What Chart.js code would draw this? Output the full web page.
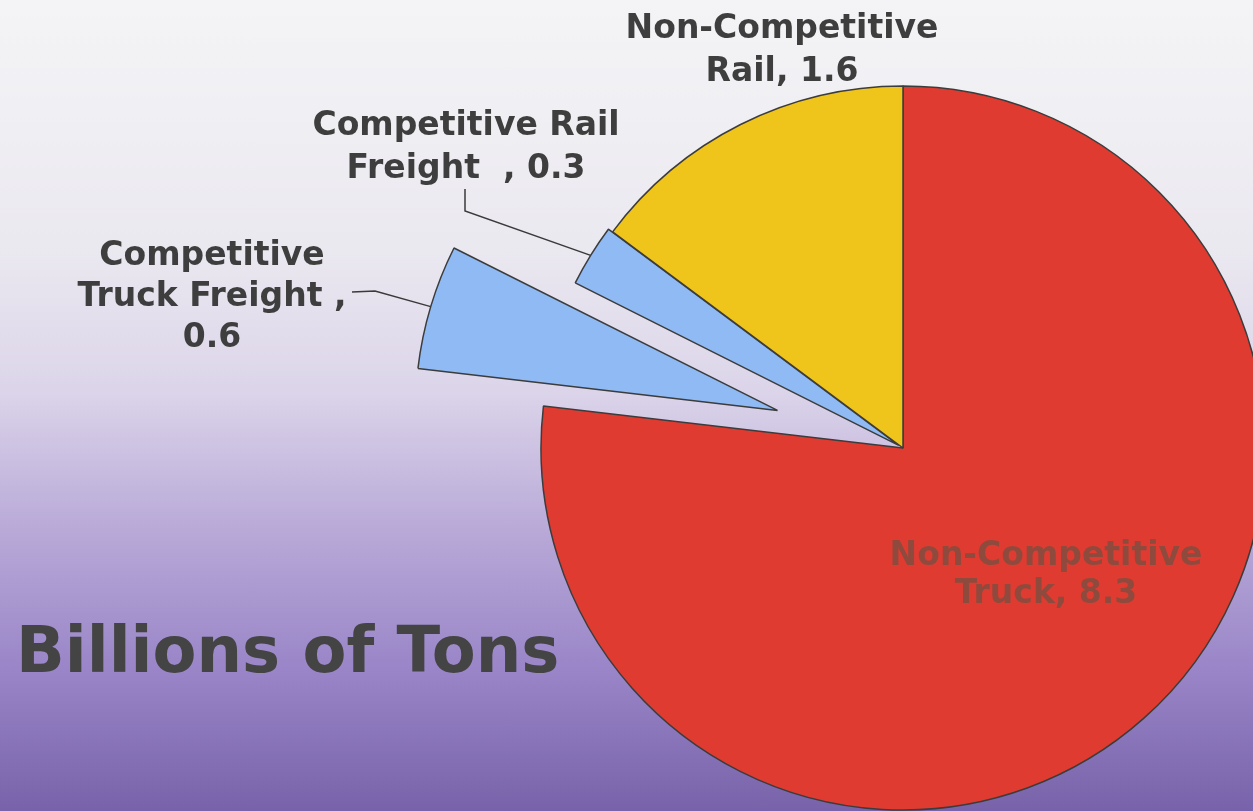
<!DOCTYPE html>
<html>
<head>
<meta charset="utf-8">
<script src="https://cdn.jsdelivr.net/npm/chart.js@4"></script>
<style>
  html, body { margin: 0; padding: 0; }
  body {
    width: 1253px; height: 811px; overflow: hidden;
    background: linear-gradient(to bottom, #f4f4f6 0%, #ebe9f0 30%, #dcd5ea 48%, #b9aad8 65%, #9a86c8 82%, #7863aa 100%);
  }
  #wrap { position: relative; width: 1253px; height: 811px; }
</style>
</head>
<body>
<div id="wrap"><canvas id="pieChart"></canvas></div>
<script>
// data (billions of tons)
const categories = ["Non-Competitive Truck", "Competitive Truck Freight", "Competitive Rail Freight", "Non-Competitive Rail"];
const tons = [8.3, 0.6, 0.3, 1.6];
const sliceColors = ["#e03b31", "#8fbaf3", "#8fbaf3", "#efc41b"];

// how far each slice is pulled out of the pie (px)
const explode = [0, 131, 5, 0];

const LABEL_FONT = "bold 33px 'DejaVu Sans'";
const TEXT_GRAY = "#3e3e3e";

// label text per slice, centre x and first baseline, line gap
const labelLines = [
  ["Non-Competitive", "Truck, 8.3"],
  ["Competitive", "Truck Freight ,", "0.6"],
  ["Competitive Rail", "Freight  , 0.3"],
  ["Non-Competitive", "Rail, 1.6"]
];
const labelPos = [
  { x: 1046, y: 565, gap: 38, color: "#8f4a3e" },
  { x: 212, y: 265, gap: 41, color: TEXT_GRAY },
  { x: 466, y: 135, gap: 43, color: TEXT_GRAY },
  { x: 782, y: 38, gap: 43, color: TEXT_GRAY }
];

// move the exploded slices after chart.js lays them out
const explodePlugin = {
  id: "explode",
  afterDatasetUpdate(chart, args) {
    args.meta.data.forEach((arc, i) => {
      const d = explode[i];
      if (!d) return;
      const mid = (arc.startAngle + arc.endAngle) / 2;
      arc.x += Math.cos(mid) * d;
      arc.y += Math.sin(mid) * d;
    });
  }
};

function edgePoint(arc) {
  const mid = (arc.startAngle + arc.endAngle) / 2;
  return { x: arc.x + Math.cos(mid) * arc.outerRadius, y: arc.y + Math.sin(mid) * arc.outerRadius };
}

const labelPlugin = {
  id: "sliceLabels",
  afterDraw(chart) {
    const ctx = chart.ctx;
    const arcs = chart.getDatasetMeta(0).data;
    ctx.save();

    // leader lines
    ctx.strokeStyle = "#3a3a3a";
    ctx.lineWidth = 1.5;
    let p = edgePoint(arcs[1]);
    ctx.beginPath();
    ctx.moveTo(352, 292);
    ctx.lineTo(375, 291);
    ctx.lineTo(p.x, p.y);
    ctx.stroke();

    p = edgePoint(arcs[2]);
    ctx.beginPath();
    ctx.moveTo(465, 189);
    ctx.lineTo(465, 211);
    ctx.lineTo(p.x, p.y);
    ctx.stroke();

    // slice labels
    ctx.font = LABEL_FONT;
    ctx.textAlign = "center";
    ctx.textBaseline = "alphabetic";
    labelLines.forEach((lines, i) => {
      const pos = labelPos[i];
      ctx.fillStyle = pos.color;
      lines.forEach((t, j) => ctx.fillText(t, pos.x, pos.y + j * pos.gap));
    });

    // title
    ctx.font = "bold 64px 'DejaVu Sans'";
    ctx.textAlign = "left";
    ctx.fillStyle = "#444444";
    ctx.fillText("Billions of Tons", 16, 672);
    ctx.restore();
  }
};

const ctx = document.getElementById("pieChart").getContext("2d");
new Chart(ctx, {
  type: "pie",
  data: {
    labels: categories,
    datasets: [{
      data: tons,
      backgroundColor: sliceColors,
      borderColor: "#3c3c3c",
      borderWidth: 1.5,
      radius: 362,
      clip: false
    }]
  },
  options: {
    responsive: true,
    maintainAspectRatio: false,
    animation: false,
    events: [],
    layout: { padding: { left: 553, right: 0, top: 85, bottom: 0 } },
    plugins: {
      legend: { display: false },
      tooltip: { enabled: false }
    }
  },
  plugins: [explodePlugin, labelPlugin]
});
</script>
</body>
</html>
